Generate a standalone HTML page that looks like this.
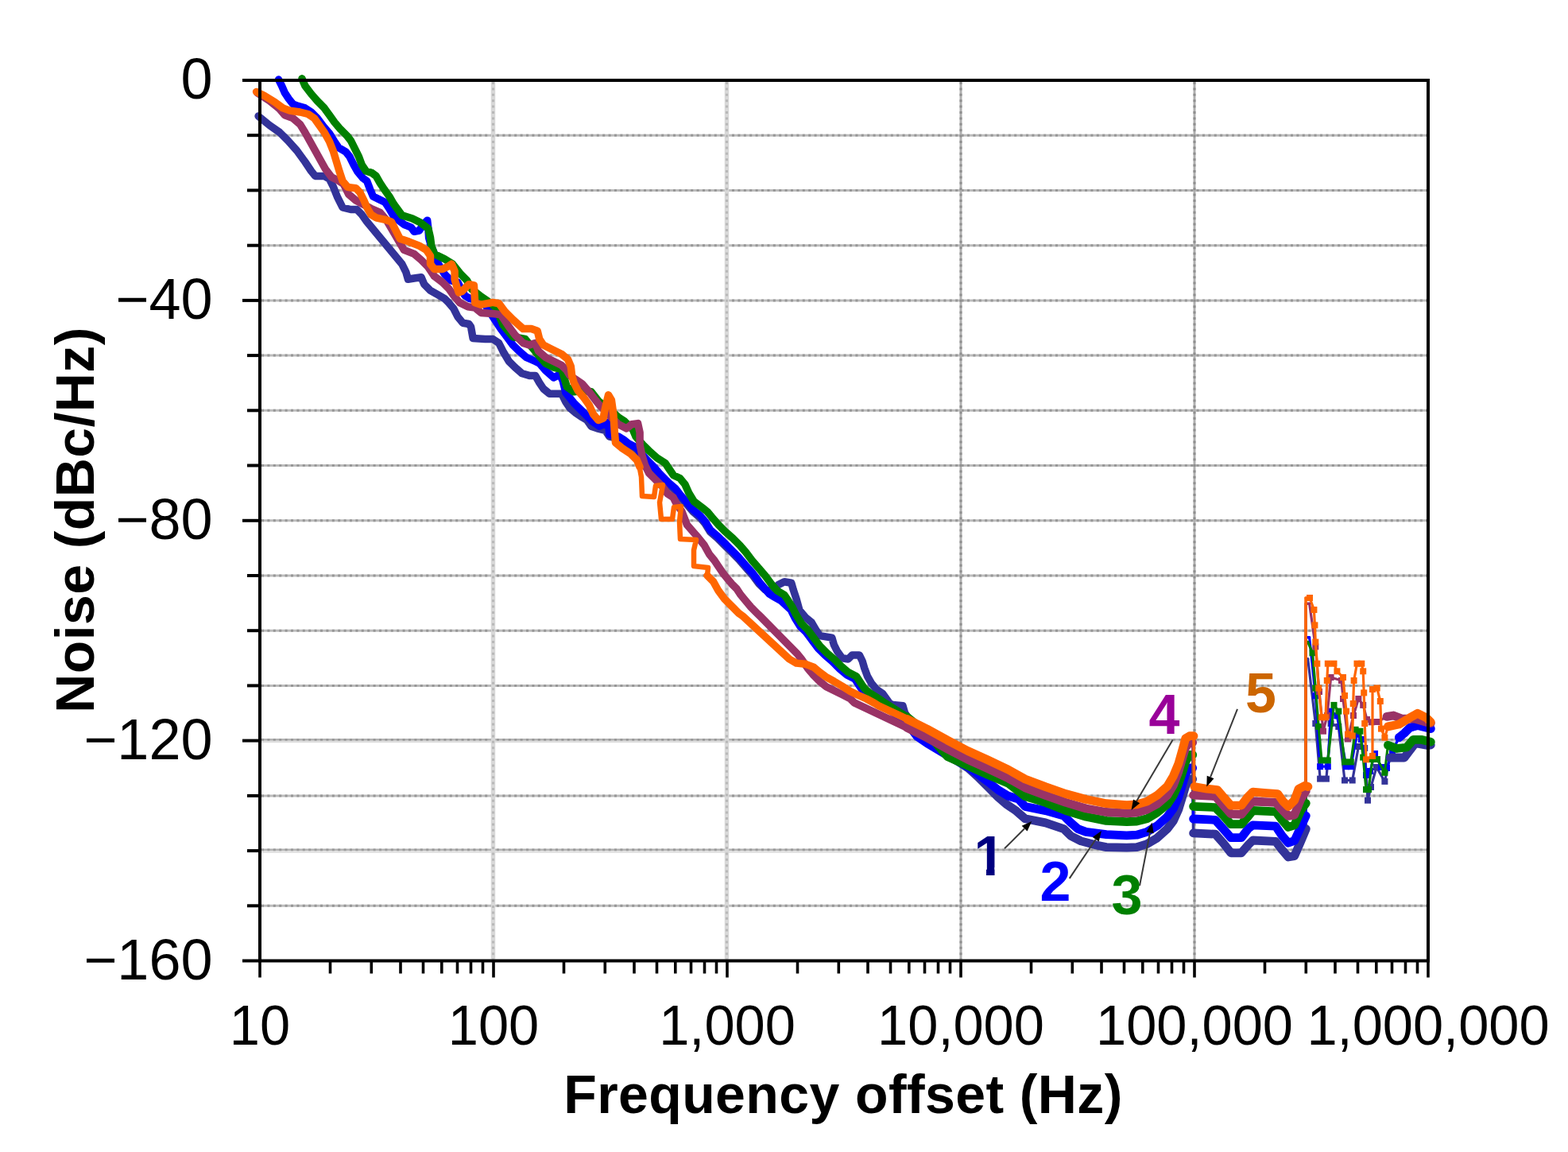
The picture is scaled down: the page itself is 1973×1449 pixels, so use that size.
<!DOCTYPE html>
<html><head><meta charset="utf-8"><style>
html,body{margin:0;padding:0;background:#fff;}
svg{display:block}
.tk{font-family:"Liberation Sans",Arial,sans-serif;font-size:70px;fill:#000}
.nl{font-family:"Liberation Sans",Arial,sans-serif;font-size:70px;font-weight:bold}
.tt{font-family:"Liberation Sans",Arial,sans-serif;font-size:68px;font-weight:bold;fill:#000}
</style></head><body>
<svg width="1973" height="1449" viewBox="0 0 1973 1449">
<rect width="1973" height="1449" fill="#fff"/>
<line x1="329.0" y1="1139.3" x2="1795" y2="1139.3" stroke="#bdbdbd" stroke-width="3"/><line x1="329.0" y1="1139.3" x2="1795" y2="1139.3" stroke="#979797" stroke-width="3" stroke-dasharray="3 4.4"/><line x1="329.0" y1="1068.9" x2="1795" y2="1068.9" stroke="#b4b4b4" stroke-width="2.6"/><line x1="329.0" y1="1071.6" x2="1795" y2="1071.6" stroke="#dedede" stroke-width="2.4"/><line x1="329.0" y1="1068.9" x2="1795" y2="1068.9" stroke="#999" stroke-width="2.6" stroke-dasharray="3 4.4"/><line x1="329.0" y1="1000.9" x2="1795" y2="1000.9" stroke="#bdbdbd" stroke-width="3"/><line x1="329.0" y1="1000.9" x2="1795" y2="1000.9" stroke="#979797" stroke-width="3" stroke-dasharray="3 4.4"/><line x1="329.0" y1="930.4" x2="1795" y2="930.4" stroke="#b4b4b4" stroke-width="2.6"/><line x1="329.0" y1="933.1" x2="1795" y2="933.1" stroke="#dedede" stroke-width="2.4"/><line x1="329.0" y1="930.4" x2="1795" y2="930.4" stroke="#999" stroke-width="2.6" stroke-dasharray="3 4.4"/><line x1="329.0" y1="862.4" x2="1795" y2="862.4" stroke="#bdbdbd" stroke-width="3"/><line x1="329.0" y1="862.4" x2="1795" y2="862.4" stroke="#979797" stroke-width="3" stroke-dasharray="3 4.4"/><line x1="329.0" y1="793.2" x2="1795" y2="793.2" stroke="#bdbdbd" stroke-width="3"/><line x1="329.0" y1="793.2" x2="1795" y2="793.2" stroke="#979797" stroke-width="3" stroke-dasharray="3 4.4"/><line x1="329.0" y1="724.0" x2="1795" y2="724.0" stroke="#bdbdbd" stroke-width="3"/><line x1="329.0" y1="724.0" x2="1795" y2="724.0" stroke="#979797" stroke-width="3" stroke-dasharray="3 4.4"/><line x1="329.0" y1="654.8" x2="1795" y2="654.8" stroke="#bdbdbd" stroke-width="3"/><line x1="329.0" y1="654.8" x2="1795" y2="654.8" stroke="#979797" stroke-width="3" stroke-dasharray="3 4.4"/><line x1="329.0" y1="585.5" x2="1795" y2="585.5" stroke="#bdbdbd" stroke-width="3"/><line x1="329.0" y1="585.5" x2="1795" y2="585.5" stroke="#979797" stroke-width="3" stroke-dasharray="3 4.4"/><line x1="329.0" y1="516.3" x2="1795" y2="516.3" stroke="#bdbdbd" stroke-width="3"/><line x1="329.0" y1="516.3" x2="1795" y2="516.3" stroke="#979797" stroke-width="3" stroke-dasharray="3 4.4"/><line x1="329.0" y1="447.1" x2="1795" y2="447.1" stroke="#bdbdbd" stroke-width="3"/><line x1="329.0" y1="447.1" x2="1795" y2="447.1" stroke="#979797" stroke-width="3" stroke-dasharray="3 4.4"/><line x1="329.0" y1="377.9" x2="1795" y2="377.9" stroke="#bdbdbd" stroke-width="3"/><line x1="329.0" y1="377.9" x2="1795" y2="377.9" stroke="#979797" stroke-width="3" stroke-dasharray="3 4.4"/><line x1="329.0" y1="308.7" x2="1795" y2="308.7" stroke="#bdbdbd" stroke-width="3"/><line x1="329.0" y1="308.7" x2="1795" y2="308.7" stroke="#979797" stroke-width="3" stroke-dasharray="3 4.4"/><line x1="329.0" y1="239.4" x2="1795" y2="239.4" stroke="#bdbdbd" stroke-width="3"/><line x1="329.0" y1="239.4" x2="1795" y2="239.4" stroke="#979797" stroke-width="3" stroke-dasharray="3 4.4"/><line x1="329.0" y1="170.2" x2="1795" y2="170.2" stroke="#bdbdbd" stroke-width="3"/><line x1="329.0" y1="170.2" x2="1795" y2="170.2" stroke="#979797" stroke-width="3" stroke-dasharray="3 4.4"/><line x1="620.5" y1="103.0" x2="620.5" y2="1206.5" stroke="#d8d8d8" stroke-width="5.5"/><line x1="620.5" y1="103.0" x2="620.5" y2="1206.5" stroke="#b8b8b8" stroke-width="3" stroke-dasharray="3 4.4"/><line x1="914.5" y1="103.0" x2="914.5" y2="1206.5" stroke="#d8d8d8" stroke-width="5.5"/><line x1="914.5" y1="103.0" x2="914.5" y2="1206.5" stroke="#b8b8b8" stroke-width="3" stroke-dasharray="3 4.4"/><line x1="1209.0" y1="103.0" x2="1209.0" y2="1206.5" stroke="#b0b0b0" stroke-width="3"/><line x1="1209.0" y1="103.0" x2="1209.0" y2="1206.5" stroke="#8e8e8e" stroke-width="3" stroke-dasharray="3 4.4"/><line x1="1503.0" y1="103.0" x2="1503.0" y2="1206.5" stroke="#b0b0b0" stroke-width="3"/><line x1="1503.0" y1="103.0" x2="1503.0" y2="1206.5" stroke="#8e8e8e" stroke-width="3" stroke-dasharray="3 4.4"/>
<g><polyline points="1645.7,828.9 1655.3,910.0 1661.1,979.6 1668.9,979.6 1674.6,910.0 1684.3,914.0 1692.0,981.5 1701.7,981.5 1709.4,939.0 1717.2,941.0 1721.0,1006.7 1725.0,990.0 1732.0,965.0 1742.4,982.9 1749.0,953.0" fill="none" stroke="#333399" stroke-width="3.2" stroke-linejoin="round" stroke-linecap="round"/><rect x="1651.3" y="906.0" width="8" height="8" fill="#333399"/><rect x="1657.1" y="975.6" width="8" height="8" fill="#333399"/><rect x="1664.9" y="975.6" width="8" height="8" fill="#333399"/><rect x="1670.6" y="906.0" width="8" height="8" fill="#333399"/><rect x="1680.3" y="910.0" width="8" height="8" fill="#333399"/><rect x="1688.0" y="977.5" width="8" height="8" fill="#333399"/><rect x="1697.7" y="977.5" width="8" height="8" fill="#333399"/><rect x="1705.4" y="935.0" width="8" height="8" fill="#333399"/><rect x="1713.2" y="937.0" width="8" height="8" fill="#333399"/><rect x="1717.0" y="1002.7" width="8" height="8" fill="#333399"/><rect x="1721.0" y="986.0" width="8" height="8" fill="#333399"/><rect x="1728.0" y="961.0" width="8" height="8" fill="#333399"/><rect x="1738.4" y="978.9" width="8" height="8" fill="#333399"/><rect x="1745.0" y="949.0" width="8" height="8" fill="#333399"/><polyline points="1647.6,801.8 1655.3,875.3 1661.1,964.2 1670.8,964.2 1674.6,894.6 1682.4,900.4 1694.0,964.2 1699.8,964.2 1707.5,923.6 1713.0,930.0 1719.0,975.0 1724.0,970.0 1730.0,948.0 1738.0,965.0 1745.0,966.0 1752.0,945.0 1760.3,927.7" fill="none" stroke="#0000ff" stroke-width="3.2" stroke-linejoin="round" stroke-linecap="round"/><rect x="1651.3" y="871.3" width="8" height="8" fill="#0000ff"/><rect x="1657.1" y="960.2" width="8" height="8" fill="#0000ff"/><rect x="1666.8" y="960.2" width="8" height="8" fill="#0000ff"/><rect x="1670.6" y="890.6" width="8" height="8" fill="#0000ff"/><rect x="1678.4" y="896.4" width="8" height="8" fill="#0000ff"/><rect x="1690.0" y="960.2" width="8" height="8" fill="#0000ff"/><rect x="1695.8" y="960.2" width="8" height="8" fill="#0000ff"/><rect x="1703.5" y="919.6" width="8" height="8" fill="#0000ff"/><rect x="1709.0" y="926.0" width="8" height="8" fill="#0000ff"/><rect x="1715.0" y="971.0" width="8" height="8" fill="#0000ff"/><rect x="1720.0" y="966.0" width="8" height="8" fill="#0000ff"/><rect x="1726.0" y="944.0" width="8" height="8" fill="#0000ff"/><rect x="1734.0" y="961.0" width="8" height="8" fill="#0000ff"/><rect x="1741.0" y="962.0" width="8" height="8" fill="#0000ff"/><rect x="1748.0" y="941.0" width="8" height="8" fill="#0000ff"/><rect x="1756.3" y="923.7" width="8" height="8" fill="#0000ff"/><polyline points="1645.7,807.6 1651.5,821.2 1655.3,865.6 1659.2,914.0 1663.0,956.4 1670.8,956.4 1678.5,886.9 1684.3,894.6 1692.0,958.4 1699.8,958.4 1705.6,917.8 1711.4,919.7 1715.2,952.6 1719.0,993.1 1722.0,993.0 1727.0,955.0 1733.0,955.0 1742.4,971.8 1746.5,937.3" fill="none" stroke="#008000" stroke-width="3.2" stroke-linejoin="round" stroke-linecap="round"/><rect x="1647.5" y="817.2" width="8" height="8" fill="#008000"/><rect x="1651.3" y="861.6" width="8" height="8" fill="#008000"/><rect x="1655.2" y="910.0" width="8" height="8" fill="#008000"/><rect x="1659.0" y="952.4" width="8" height="8" fill="#008000"/><rect x="1666.8" y="952.4" width="8" height="8" fill="#008000"/><rect x="1674.5" y="882.9" width="8" height="8" fill="#008000"/><rect x="1680.3" y="890.6" width="8" height="8" fill="#008000"/><rect x="1688.0" y="954.4" width="8" height="8" fill="#008000"/><rect x="1695.8" y="954.4" width="8" height="8" fill="#008000"/><rect x="1701.6" y="913.8" width="8" height="8" fill="#008000"/><rect x="1707.4" y="915.7" width="8" height="8" fill="#008000"/><rect x="1711.2" y="948.6" width="8" height="8" fill="#008000"/><rect x="1715.0" y="989.1" width="8" height="8" fill="#008000"/><rect x="1718.0" y="989.0" width="8" height="8" fill="#008000"/><rect x="1723.0" y="951.0" width="8" height="8" fill="#008000"/><rect x="1729.0" y="951.0" width="8" height="8" fill="#008000"/><rect x="1738.4" y="967.8" width="8" height="8" fill="#008000"/><rect x="1742.5" y="933.3" width="8" height="8" fill="#008000"/><polyline points="1647.6,759.3 1655.3,813.4 1660.0,870.0 1665.0,919.7 1670.0,900.0 1674.6,852.0 1688.0,856.0 1690.0,879.0 1696.0,929.4 1703.0,900.0 1709.4,879.0 1715.2,886.9 1720.0,905.0 1725.8,908.3 1733.0,908.0 1745.0,901.4" fill="none" stroke="#993366" stroke-width="3.2" stroke-linejoin="round" stroke-linecap="round"/><rect x="1651.3" y="809.4" width="8" height="8" fill="#993366"/><rect x="1656.0" y="866.0" width="8" height="8" fill="#993366"/><rect x="1661.0" y="915.7" width="8" height="8" fill="#993366"/><rect x="1666.0" y="896.0" width="8" height="8" fill="#993366"/><rect x="1670.6" y="848.0" width="8" height="8" fill="#993366"/><rect x="1684.0" y="852.0" width="8" height="8" fill="#993366"/><rect x="1686.0" y="875.0" width="8" height="8" fill="#993366"/><rect x="1692.0" y="925.4" width="8" height="8" fill="#993366"/><rect x="1699.0" y="896.0" width="8" height="8" fill="#993366"/><rect x="1705.4" y="875.0" width="8" height="8" fill="#993366"/><rect x="1711.2" y="882.9" width="8" height="8" fill="#993366"/><rect x="1716.0" y="901.0" width="8" height="8" fill="#993366"/><rect x="1721.8" y="904.3" width="8" height="8" fill="#993366"/><rect x="1729.0" y="904.0" width="8" height="8" fill="#993366"/><rect x="1741.0" y="897.4" width="8" height="8" fill="#993366"/><polyline points="1643.0,752.0 1648.0,752.0 1653.4,767.0 1654.4,786.4 1655.3,807.6 1657.3,834.7 1659.2,865.6 1663.0,902.3 1668.0,902.3 1669.8,856.0 1670.8,834.7 1678.5,834.7 1682.4,844.3 1690.0,852.0 1692.0,875.0 1694.0,894.6 1696.0,923.6 1701.7,925.5 1702.7,885.0 1703.6,856.0 1707.5,834.7 1713.3,834.7 1715.2,844.3 1716.2,871.4 1717.2,910.0 1719.0,955.3 1727.0,951.0 1727.0,867.0 1732.7,865.5 1736.8,882.0 1738.0,916.6 1742.4,927.7 1746.5,913.9" fill="none" stroke="#ff6600" stroke-width="3.2" stroke-linejoin="round" stroke-linecap="round"/><rect x="1644.0" y="748.0" width="8" height="8" fill="#ff6600"/><rect x="1649.4" y="763.0" width="8" height="8" fill="#ff6600"/><rect x="1650.4" y="782.4" width="8" height="8" fill="#ff6600"/><rect x="1651.3" y="803.6" width="8" height="8" fill="#ff6600"/><rect x="1653.3" y="830.7" width="8" height="8" fill="#ff6600"/><rect x="1655.2" y="861.6" width="8" height="8" fill="#ff6600"/><rect x="1659.0" y="898.3" width="8" height="8" fill="#ff6600"/><rect x="1664.0" y="898.3" width="8" height="8" fill="#ff6600"/><rect x="1665.8" y="852.0" width="8" height="8" fill="#ff6600"/><rect x="1666.8" y="830.7" width="8" height="8" fill="#ff6600"/><rect x="1674.5" y="830.7" width="8" height="8" fill="#ff6600"/><rect x="1678.4" y="840.3" width="8" height="8" fill="#ff6600"/><rect x="1686.0" y="848.0" width="8" height="8" fill="#ff6600"/><rect x="1688.0" y="871.0" width="8" height="8" fill="#ff6600"/><rect x="1690.0" y="890.6" width="8" height="8" fill="#ff6600"/><rect x="1692.0" y="919.6" width="8" height="8" fill="#ff6600"/><rect x="1697.7" y="921.5" width="8" height="8" fill="#ff6600"/><rect x="1698.7" y="881.0" width="8" height="8" fill="#ff6600"/><rect x="1699.6" y="852.0" width="8" height="8" fill="#ff6600"/><rect x="1703.5" y="830.7" width="8" height="8" fill="#ff6600"/><rect x="1709.3" y="830.7" width="8" height="8" fill="#ff6600"/><rect x="1711.2" y="840.3" width="8" height="8" fill="#ff6600"/><rect x="1712.2" y="867.4" width="8" height="8" fill="#ff6600"/><rect x="1713.2" y="906.0" width="8" height="8" fill="#ff6600"/><rect x="1715.0" y="951.3" width="8" height="8" fill="#ff6600"/><rect x="1723.0" y="947.0" width="8" height="8" fill="#ff6600"/><rect x="1723.0" y="863.0" width="8" height="8" fill="#ff6600"/><rect x="1728.7" y="861.5" width="8" height="8" fill="#ff6600"/><rect x="1732.8" y="878.0" width="8" height="8" fill="#ff6600"/><rect x="1734.0" y="912.6" width="8" height="8" fill="#ff6600"/><rect x="1738.4" y="923.7" width="8" height="8" fill="#ff6600"/><rect x="1742.5" y="909.9" width="8" height="8" fill="#ff6600"/><polyline points="1500.7,980.0 1501.6,1047.9" fill="none" stroke="#333399" stroke-width="3.5" stroke-linejoin="round" stroke-linecap="round"/><polyline points="1643.3,1042.6 1643.0,1042.6 1643.0,828.9 1645.7,828.9" fill="none" stroke="#333399" stroke-width="3.5" stroke-linejoin="round" stroke-linecap="round"/><polyline points="325.1,146.1 339.2,157.6 351.9,166.5 362.1,176.7 373.6,189.5 383.8,203.5 391.5,215.0 396.6,221.4 408.1,221.4 414.5,225.2 419.6,235.4 424.7,248.2 431.1,261.0 441.3,263.5 449.0,263.5 455.3,269.9 461.7,278.9 505.8,332.1 510.9,342.4 513.4,351.3 521.1,350.0 530.0,348.7 533.8,357.7 541.5,365.3 550.4,370.4 559.4,375.6 564.5,380.7 570.9,388.3 576.0,398.5 582.4,406.2 590.0,407.5 592.6,411.3 595.1,425.4 610.4,426.6 620.0,426.4 627.7,431.5 632.8,441.7 640.4,454.5 648.1,462.1 657.0,469.8 666.0,472.4 673.6,472.4 678.7,481.3 683.8,489.0 691.5,495.3 699.2,495.3 706.8,495.3 711.9,505.6 717.0,513.2 724.7,519.6 732.4,524.7 738.7,528.5 743.9,536.2 751.5,538.8 761.7,541.5 766.8,549.2 778.3,551.7 784.7,555.5 791.1,560.7 801.3,565.8 814.1,581.1 823.0,590.0 829.4,597.7 837.0,605.3 842.1,610.4 849.8,616.8 855.5,624.5 864.5,634.7 872.1,643.6 881.1,651.3 887.5,658.9 893.8,669.2 902.8,676.8 911.7,685.8 920.7,694.7 929.6,703.6 938.5,713.9 947.5,724.1 955.1,734.3 962.8,741.9 970.4,743.2 979.4,735.6 987.0,731.7 995.8,733.2 998.3,742.1 1002.1,753.6 1006.0,767.7 1013.6,776.6 1021.3,783.0 1026.4,791.9 1031.5,799.6 1039.2,800.9 1046.8,802.1 1049.4,811.1 1053.2,818.7 1059.6,827.7 1067.3,829.0 1072.4,823.9 1081.3,823.9 1085.1,831.5 1087.7,840.4 1091.5,850.7 1096.6,859.6 1103.0,867.3 1110.7,872.4 1117.0,881.3 1119.6,885.0 1123.2,886.4 1136.0,887.7 1138.5,896.6 1153.8,919.6" fill="none" stroke="#333399" stroke-width="9.5" stroke-linejoin="round" stroke-linecap="round"/><polyline points="1153.8,919.6 1166.6,932.4 1192.1,949.0 1217.7,965.6 1230.4,977.0 1243.2,989.8 1256.0,1002.6 1266.2,1011.5 1277.7,1019.2 1290.0,1029.8 1315.5,1034.9 1338.5,1042.6 1347.5,1051.5 1360.2,1057.9 1379.4,1063.0 1392.1,1065.6 1417.7,1066.2 1430.4,1065.6 1443.2,1061.7 1456.0,1054.1 1468.8,1042.6 1476.4,1032.4 1482.8,1018.3 1487.9,1001.7 1491.7,988.9 1496.8,980.0 1500.7,980.0" fill="none" stroke="#333399" stroke-width="10.8" stroke-linejoin="round" stroke-linecap="round"/><polyline points="1501.6,1047.9 1529.2,1049.2 1539.7,1061.0 1548.8,1072.8 1562.0,1072.8 1571.1,1062.3 1576.4,1057.0 1605.2,1058.4 1613.1,1068.8 1621.0,1078.0 1628.8,1076.7 1636.7,1058.4 1643.3,1042.6" fill="none" stroke="#333399" stroke-width="10.8" stroke-linejoin="round" stroke-linecap="round"/><polyline points="1749.0,953.0 1767.0,953.0 1781.0,934.6 1794.8,937.3 1800.3,937.0" fill="none" stroke="#333399" stroke-width="10.8" stroke-linejoin="round" stroke-linecap="round"/><polyline points="1500.7,966.0 1501.6,1030.0" fill="none" stroke="#0000ff" stroke-width="3.5" stroke-linejoin="round" stroke-linecap="round"/><polyline points="1643.3,1026.1 1643.0,1026.1 1643.0,801.8 1647.6,801.8" fill="none" stroke="#0000ff" stroke-width="3.5" stroke-linejoin="round" stroke-linecap="round"/><polyline points="350.6,100.1 354.5,107.8 358.3,116.7 363.4,124.4 368.5,130.8 374.9,133.3 383.8,135.9 391.5,141.0 399.2,148.6 406.8,158.8 414.5,167.8 420.9,178.0 426.0,185.7 434.9,190.8 440.0,197.1 445.1,207.4 450.2,216.3 456.6,224.0 461.7,227.8 465.6,238.0 469.4,246.9 477.0,250.8 484.7,254.6 489.8,262.3 494.9,271.2 498.8,275.0 508.3,282.3 517.5,286.2 521.1,291.3 527.5,290.0 533.8,281.1 537.7,277.2 538.9,287.5 539.6,298.9 542.8,310.4 547.9,321.9 551.7,332.1 559.4,344.9 567.0,352.6 576.0,355.1 579.8,362.8 584.9,371.7 591.3,375.6 597.7,376.8 610.4,383.2 622.6,402.1 630.2,413.6 637.9,423.8 645.5,434.1 653.2,441.7 662.1,449.4 673.6,454.5 678.7,457.0 686.4,466.0 696.6,474.9 704.3,471.1 708.1,478.7 711.9,494.1 722.1,506.8 732.4,517.0 738.7,523.4 745.1,529.8 754.1,536.2 765.5,531.3 766.8,546.6 778.3,549.2 784.7,553.0 791.1,558.1 801.3,563.2 806.4,569.6 814.1,578.5 823.0,587.5 829.4,595.1 837.0,602.8 842.1,607.9 849.8,614.3 855.5,621.9 864.5,632.1 872.1,641.1 881.1,648.7 887.5,656.4 893.8,666.6 902.8,674.3 911.7,683.2 920.7,692.1 929.6,701.1 938.5,711.3 947.5,721.5 955.1,731.7 961.5,739.4 967.9,747.0 974.3,750.9 983.2,756.0 995.1,767.0 1000.2,777.2 1006.6,787.5 1014.3,795.1 1021.9,805.3 1029.6,815.6 1038.5,824.5 1047.5,832.2 1056.4,841.1 1065.3,848.7 1075.6,853.9 1080.7,861.5 1085.8,869.2 1093.4,875.6 1103.6,881.9 1111.3,887.1 1141.1,909.4 1153.8,926.0" fill="none" stroke="#0000ff" stroke-width="9.5" stroke-linejoin="round" stroke-linecap="round"/><polyline points="1141.1,909.4 1153.8,926.0 1166.6,934.9 1192.1,950.2 1217.7,964.3 1243.2,983.4 1256.0,993.6 1268.8,1001.3 1281.5,1005.0 1290.0,1014.5 1315.5,1019.6 1338.5,1026.0 1347.5,1034.9 1356.4,1042.6 1366.6,1046.4 1392.1,1049.6 1417.7,1050.9 1430.4,1050.2 1443.2,1046.4 1456.0,1038.7 1468.8,1027.3 1476.4,1017.0 1482.8,1003.0 1487.9,986.4 1491.7,973.6 1496.8,966.0 1500.7,966.0" fill="none" stroke="#0000ff" stroke-width="10.8" stroke-linejoin="round" stroke-linecap="round"/><polyline points="1501.6,1030.0 1529.2,1031.3 1539.7,1043.1 1548.8,1053.6 1562.0,1053.6 1571.1,1041.8 1576.4,1037.9 1605.2,1039.2 1613.1,1051.0 1621.0,1060.2 1628.8,1057.5 1636.7,1040.5 1643.3,1026.1" fill="none" stroke="#0000ff" stroke-width="10.8" stroke-linejoin="round" stroke-linecap="round"/><polyline points="1760.3,927.7 1767.2,922.1 1774.0,915.2 1783.8,912.5 1794.8,915.2 1800.3,916.6" fill="none" stroke="#0000ff" stroke-width="10.8" stroke-linejoin="round" stroke-linecap="round"/><polyline points="1500.7,949.4 1501.6,1014.3" fill="none" stroke="#008000" stroke-width="3.5" stroke-linejoin="round" stroke-linecap="round"/><polyline points="1643.3,1010.3 1643.0,1010.3 1643.0,807.6 1645.7,807.6" fill="none" stroke="#008000" stroke-width="3.5" stroke-linejoin="round" stroke-linecap="round"/><polyline points="380.0,98.8 383.8,107.8 391.5,118.0 399.2,126.9 408.1,135.9 414.5,144.8 420.9,153.7 428.5,162.7 436.2,170.3 441.3,176.7 446.4,186.9 451.5,197.1 455.3,207.4 460.4,215.0 468.1,217.6 473.2,221.4 478.3,230.3 483.4,238.0 489.8,246.9 494.9,255.9 505.8,270.9 518.5,274.7 528.7,279.8 538.9,287.5 541.5,298.9 542.8,309.2 546.6,319.4 559.4,325.8 569.6,332.1 579.8,344.9 587.5,352.6 593.9,364.1 605.3,373.0 613.0,378.1 623.8,386.8 632.8,408.5 645.5,423.8 660.9,426.4 677.5,446.8 686.4,457.0 696.6,462.1 706.8,464.7 713.2,486.4 722.1,492.8 734.9,491.5 743.9,492.8 754.1,505.6 764.3,512.1 778.3,524.9 786.0,530.0 796.2,540.2 800.0,549.2 808.9,559.4 816.6,567.0 826.8,576.0 837.0,582.4 842.1,590.0 847.3,597.7 855.5,601.5 861.9,609.2 867.0,620.6 873.4,630.9 883.6,638.5 890.0,643.6 896.4,651.3 904.1,660.2 911.7,667.9 921.9,676.8 930.9,685.8 938.5,694.7 946.2,704.9 955.1,715.1 962.8,724.1 970.4,734.3 978.1,743.2 987.0,748.3 990.6,753.6 997.0,763.8 1002.1,774.1 1008.5,784.3 1016.2,791.9 1023.8,802.1 1031.5,812.4 1040.4,821.3 1049.4,829.0 1058.3,837.9 1067.3,845.6 1077.5,850.7 1082.6,858.3 1087.7,866.0 1095.3,872.4 1105.6,878.8 1113.2,883.9 1141.1,901.7" fill="none" stroke="#008000" stroke-width="9.5" stroke-linejoin="round" stroke-linecap="round"/><polyline points="1141.1,901.7 1166.6,922.1 1192.1,951.5 1217.7,963.0 1243.2,974.5 1268.8,985.3 1290.0,1001.7 1315.5,1009.4 1341.1,1019.6 1366.6,1027.3 1392.1,1032.4 1417.7,1033.6 1430.4,1033.0 1443.2,1029.8 1456.0,1022.1 1468.8,1011.9 1476.4,1000.4 1482.8,986.4 1487.9,971.1 1491.7,958.3 1496.8,949.4 1500.7,949.4" fill="none" stroke="#008000" stroke-width="10.8" stroke-linejoin="round" stroke-linecap="round"/><polyline points="1501.6,1014.3 1529.2,1015.6 1539.7,1026.1 1548.8,1036.6 1562.0,1036.6 1571.1,1026.1 1576.4,1019.5 1605.2,1020.8 1613.1,1031.3 1621.0,1040.5 1628.8,1037.9 1636.7,1019.5 1643.3,1010.3" fill="none" stroke="#008000" stroke-width="10.8" stroke-linejoin="round" stroke-linecap="round"/><polyline points="1746.5,937.3 1757.5,941.5 1770.0,940.0 1778.3,930.4 1789.3,930.4 1800.3,933.2" fill="none" stroke="#008000" stroke-width="10.8" stroke-linejoin="round" stroke-linecap="round"/><polyline points="1500.7,934.0 1501.6,1000.2" fill="none" stroke="#993366" stroke-width="3.5" stroke-linejoin="round" stroke-linecap="round"/><polyline points="1643.3,994.9 1643.0,994.9 1643.0,759.3 1647.6,759.3" fill="none" stroke="#993366" stroke-width="3.5" stroke-linejoin="round" stroke-linecap="round"/><polyline points="323.8,116.7 339.2,126.9 351.9,137.1 358.3,144.8 368.5,148.6 377.5,156.3 383.8,166.5 390.2,178.0 396.6,189.5 403.0,201.0 409.4,212.5 417.0,222.7 424.7,226.5 432.4,231.6 438.7,244.4 447.7,252.0 466.8,262.3 478.3,267.4 486.0,276.3 508.3,314.3 521.1,319.4 530.0,327.0 538.9,336.0 546.6,347.5 556.8,355.1 564.5,362.8 570.9,371.7 578.5,380.7 588.7,385.8 597.7,387.0 605.3,393.4 620.0,394.5 630.2,395.8 640.4,411.1 648.1,421.3 658.3,431.5 666.0,434.1 673.6,431.5 677.5,441.7 686.4,449.4 696.6,454.5 706.8,459.6 713.2,466.0 717.0,472.4 724.7,477.5 732.4,482.6 741.3,492.8 749.0,503.0 755.3,510.7 763.0,518.5 778.3,533.8 788.5,538.9 794.9,533.8 802.6,532.6 805.1,544.1 805.1,559.4 807.7,572.1 811.5,584.9 816.6,595.1 823.0,601.5 829.4,607.9 834.5,613.0 839.6,620.7 847.3,625.8 850.4,632.1 858.1,643.6 864.5,660.2 873.4,670.4 878.5,676.2 886.2,685.8 892.6,697.3 898.9,704.9 904.1,712.6 909.2,720.2 914.3,726.6 920.7,734.3 927.0,740.7 932.1,748.3 938.5,756.0 944.9,763.6 952.6,771.3 956.4,775.0 997.0,816.2 1003.4,822.6 1008.5,829.0 1016.2,840.4 1023.8,849.4 1031.5,857.0 1039.2,863.4 1049.4,868.5 1059.6,873.6 1069.8,878.8 1074.9,883.9 1141.1,915.1" fill="none" stroke="#993366" stroke-width="9.5" stroke-linejoin="round" stroke-linecap="round"/><polyline points="1141.1,915.1 1166.6,927.9 1192.1,941.9 1217.7,955.3 1243.2,966.8 1268.8,979.0 1290.0,990.9 1315.5,1000.4 1341.1,1009.4 1366.6,1017.0 1392.1,1021.5 1417.7,1022.8 1430.4,1022.1 1443.2,1018.3 1456.0,1011.3 1468.8,1000.4 1476.4,987.7 1482.8,971.1 1487.9,953.2 1491.7,940.4 1496.8,934.0 1500.7,934.0" fill="none" stroke="#993366" stroke-width="10.8" stroke-linejoin="round" stroke-linecap="round"/><polyline points="1501.6,1000.2 1529.2,1001.5 1539.7,1013.3 1548.8,1023.8 1562.0,1024.4 1571.1,1013.3 1576.4,1008.0 1605.2,1009.3 1613.1,1018.5 1621.0,1026.4 1628.8,1025.1 1636.7,1005.4 1643.3,994.9" fill="none" stroke="#993366" stroke-width="10.8" stroke-linejoin="round" stroke-linecap="round"/><polyline points="1745.0,901.4 1753.4,900.0 1764.5,904.2 1781.0,904.2 1794.8,908.3 1800.3,909.7" fill="none" stroke="#993366" stroke-width="10.8" stroke-linejoin="round" stroke-linecap="round"/><polyline points="1502.0,925.7 1502.9,989.5" fill="none" stroke="#ff6600" stroke-width="3.5" stroke-linejoin="round" stroke-linecap="round"/><polyline points="1645.9,989.5 1643.0,989.5 1643.0,752.0 1643.0,752.0" fill="none" stroke="#ff6600" stroke-width="3.5" stroke-linejoin="round" stroke-linecap="round"/><polyline points="322.6,115.4 332.8,120.5 345.5,128.2 355.8,135.9 364.7,139.1 377.5,141.0 387.7,143.5 395.3,148.6 401.7,157.6 408.1,166.5 414.5,178.0 419.6,190.8 423.4,203.5 427.3,216.3 431.1,227.8 437.5,235.4 447.7,236.7 452.8,241.8 457.9,252.0 461.7,261.0 466.8,269.9 473.2,273.8 484.7,276.3 492.4,278.9 503.2,300.2 514.7,304.1 527.5,309.2 536.4,314.3 541.5,321.9 541.5,332.1 546.6,338.5 556.8,338.5 564.5,334.7 568.3,332.1 572.1,341.1 572.1,351.3 574.7,360.2 577.3,367.9 581.1,366.6 590.0,357.7 596.4,359.0 597.7,380.7 605.3,383.2 620.0,380.4 627.7,381.7 635.3,391.9 645.5,402.1 658.3,413.6 668.5,413.6 676.2,416.2 678.7,426.4 683.8,434.1 694.1,439.2 706.8,445.5 714.5,451.9 718.3,460.9 719.6,472.4 722.1,481.3 727.3,491.5 734.9,500.4 741.3,509.4 746.4,520.9 752.8,528.5 759.2,526.0 760.4,518.5 764.3,501.9 765.5,496.8 769.4,503.2 771.9,521.1 773.2,541.5 774.5,556.8 782.1,563.2 793.6,570.9 801.3,578.5 805.1,587.5" fill="none" stroke="#ff6600" stroke-width="9.5" stroke-linejoin="round" stroke-linecap="round"/><polyline points="890.0,724.0 897.7,731.7 904.1,743.2 911.7,753.4 919.4,761.1 929.6,771.3 934.7,775.0 993.2,829.0 1002.1,834.1 1013.6,835.3 1023.8,839.2 1031.5,845.6 1039.2,851.3 1049.4,857.0 1059.6,863.0 1069.8,869.4 1080.0,874.5 1090.2,879.0 1100.4,884.5 1105.6,887.7 1141.1,904.3" fill="none" stroke="#ff6600" stroke-width="9.5" stroke-linejoin="round" stroke-linecap="round"/><polyline points="1141.1,904.3 1166.6,917.0 1192.1,931.1 1217.7,944.5 1243.2,956.0 1268.8,968.1 1290.0,980.0 1315.5,989.6 1341.1,998.5 1366.6,1005.5 1392.1,1010.7 1417.7,1012.6 1430.4,1011.9 1443.2,1008.1 1456.0,1000.4 1468.8,988.9 1476.4,976.2 1482.8,960.9 1487.9,943.0 1491.7,928.9 1496.8,925.7 1502.0,925.7" fill="none" stroke="#ff6600" stroke-width="10.8" stroke-linejoin="round" stroke-linecap="round"/><polyline points="1502.9,989.5 1518.7,992.2 1531.8,993.5 1539.7,1002.7 1548.8,1013.1 1562.0,1013.1 1569.8,1002.7 1576.4,996.1 1590.8,997.4 1607.8,998.7 1614.4,1007.9 1621.0,1014.5 1628.8,1006.6 1634.1,992.2 1641.9,988.2 1645.9,989.5" fill="none" stroke="#ff6600" stroke-width="10.8" stroke-linejoin="round" stroke-linecap="round"/><polyline points="1746.5,913.9 1760.3,911.0 1774.0,902.8 1783.8,897.3 1794.8,902.8 1800.3,908.3" fill="none" stroke="#ff6600" stroke-width="10.8" stroke-linejoin="round" stroke-linecap="round"/><polyline points="804.0,584.0 807.0,600.0 808.0,624.0 823.0,625.0 825.0,611.0 834.0,610.0 830.0,632.0 832.0,653.0 846.0,653.0 848.0,638.0 857.0,637.0 855.0,656.0 856.0,678.0 876.0,679.0 873.0,692.0 873.0,712.0 891.0,714.0 890.0,724.0" fill="none" stroke="#ff6600" stroke-width="6.5" stroke-linejoin="round" stroke-linecap="round"/></g>
<rect x="327.0" y="101.0" width="1470.0" height="1107.5" fill="none" stroke="#000" stroke-width="4"/><line x1="305" y1="1208.5" x2="327.0" y2="1208.5" stroke="#000" stroke-width="4"/><line x1="311" y1="1139.3" x2="327.0" y2="1139.3" stroke="#000" stroke-width="4"/><line x1="311" y1="1070.1" x2="327.0" y2="1070.1" stroke="#000" stroke-width="4"/><line x1="311" y1="1000.9" x2="327.0" y2="1000.9" stroke="#000" stroke-width="4"/><line x1="305" y1="931.6" x2="327.0" y2="931.6" stroke="#000" stroke-width="4"/><line x1="311" y1="862.4" x2="327.0" y2="862.4" stroke="#000" stroke-width="4"/><line x1="311" y1="793.2" x2="327.0" y2="793.2" stroke="#000" stroke-width="4"/><line x1="311" y1="724.0" x2="327.0" y2="724.0" stroke="#000" stroke-width="4"/><line x1="305" y1="654.8" x2="327.0" y2="654.8" stroke="#000" stroke-width="4"/><line x1="311" y1="585.5" x2="327.0" y2="585.5" stroke="#000" stroke-width="4"/><line x1="311" y1="516.3" x2="327.0" y2="516.3" stroke="#000" stroke-width="4"/><line x1="311" y1="447.1" x2="327.0" y2="447.1" stroke="#000" stroke-width="4"/><line x1="305" y1="377.9" x2="327.0" y2="377.9" stroke="#000" stroke-width="4"/><line x1="311" y1="308.7" x2="327.0" y2="308.7" stroke="#000" stroke-width="4"/><line x1="311" y1="239.4" x2="327.0" y2="239.4" stroke="#000" stroke-width="4"/><line x1="311" y1="170.2" x2="327.0" y2="170.2" stroke="#000" stroke-width="4"/><line x1="305" y1="101.0" x2="327.0" y2="101.0" stroke="#000" stroke-width="4"/><line x1="327.0" y1="1208.5" x2="327.0" y2="1229.5" stroke="#000" stroke-width="3.6"/><line x1="415.5" y1="1208.5" x2="415.5" y2="1224.5" stroke="#000" stroke-width="3.6"/><line x1="467.3" y1="1208.5" x2="467.3" y2="1224.5" stroke="#000" stroke-width="3.6"/><line x1="504.0" y1="1208.5" x2="504.0" y2="1224.5" stroke="#000" stroke-width="3.6"/><line x1="532.5" y1="1208.5" x2="532.5" y2="1224.5" stroke="#000" stroke-width="3.6"/><line x1="555.8" y1="1208.5" x2="555.8" y2="1224.5" stroke="#000" stroke-width="3.6"/><line x1="575.5" y1="1208.5" x2="575.5" y2="1224.5" stroke="#000" stroke-width="3.6"/><line x1="592.5" y1="1208.5" x2="592.5" y2="1224.5" stroke="#000" stroke-width="3.6"/><line x1="607.5" y1="1208.5" x2="607.5" y2="1224.5" stroke="#000" stroke-width="3.6"/><line x1="621.0" y1="1208.5" x2="621.0" y2="1229.5" stroke="#000" stroke-width="3.6"/><line x1="709.5" y1="1208.5" x2="709.5" y2="1224.5" stroke="#000" stroke-width="3.6"/><line x1="761.3" y1="1208.5" x2="761.3" y2="1224.5" stroke="#000" stroke-width="3.6"/><line x1="798.0" y1="1208.5" x2="798.0" y2="1224.5" stroke="#000" stroke-width="3.6"/><line x1="826.5" y1="1208.5" x2="826.5" y2="1224.5" stroke="#000" stroke-width="3.6"/><line x1="849.8" y1="1208.5" x2="849.8" y2="1224.5" stroke="#000" stroke-width="3.6"/><line x1="869.5" y1="1208.5" x2="869.5" y2="1224.5" stroke="#000" stroke-width="3.6"/><line x1="886.5" y1="1208.5" x2="886.5" y2="1224.5" stroke="#000" stroke-width="3.6"/><line x1="901.5" y1="1208.5" x2="901.5" y2="1224.5" stroke="#000" stroke-width="3.6"/><line x1="915.0" y1="1208.5" x2="915.0" y2="1229.5" stroke="#000" stroke-width="3.6"/><line x1="1003.5" y1="1208.5" x2="1003.5" y2="1224.5" stroke="#000" stroke-width="3.6"/><line x1="1055.3" y1="1208.5" x2="1055.3" y2="1224.5" stroke="#000" stroke-width="3.6"/><line x1="1092.0" y1="1208.5" x2="1092.0" y2="1224.5" stroke="#000" stroke-width="3.6"/><line x1="1120.5" y1="1208.5" x2="1120.5" y2="1224.5" stroke="#000" stroke-width="3.6"/><line x1="1143.8" y1="1208.5" x2="1143.8" y2="1224.5" stroke="#000" stroke-width="3.6"/><line x1="1163.5" y1="1208.5" x2="1163.5" y2="1224.5" stroke="#000" stroke-width="3.6"/><line x1="1180.5" y1="1208.5" x2="1180.5" y2="1224.5" stroke="#000" stroke-width="3.6"/><line x1="1195.5" y1="1208.5" x2="1195.5" y2="1224.5" stroke="#000" stroke-width="3.6"/><line x1="1209.0" y1="1208.5" x2="1209.0" y2="1229.5" stroke="#000" stroke-width="3.6"/><line x1="1297.5" y1="1208.5" x2="1297.5" y2="1224.5" stroke="#000" stroke-width="3.6"/><line x1="1349.3" y1="1208.5" x2="1349.3" y2="1224.5" stroke="#000" stroke-width="3.6"/><line x1="1386.0" y1="1208.5" x2="1386.0" y2="1224.5" stroke="#000" stroke-width="3.6"/><line x1="1414.5" y1="1208.5" x2="1414.5" y2="1224.5" stroke="#000" stroke-width="3.6"/><line x1="1437.8" y1="1208.5" x2="1437.8" y2="1224.5" stroke="#000" stroke-width="3.6"/><line x1="1457.5" y1="1208.5" x2="1457.5" y2="1224.5" stroke="#000" stroke-width="3.6"/><line x1="1474.5" y1="1208.5" x2="1474.5" y2="1224.5" stroke="#000" stroke-width="3.6"/><line x1="1489.5" y1="1208.5" x2="1489.5" y2="1224.5" stroke="#000" stroke-width="3.6"/><line x1="1503.0" y1="1208.5" x2="1503.0" y2="1229.5" stroke="#000" stroke-width="3.6"/><line x1="1591.5" y1="1208.5" x2="1591.5" y2="1224.5" stroke="#000" stroke-width="3.6"/><line x1="1643.3" y1="1208.5" x2="1643.3" y2="1224.5" stroke="#000" stroke-width="3.6"/><line x1="1680.0" y1="1208.5" x2="1680.0" y2="1224.5" stroke="#000" stroke-width="3.6"/><line x1="1708.5" y1="1208.5" x2="1708.5" y2="1224.5" stroke="#000" stroke-width="3.6"/><line x1="1731.8" y1="1208.5" x2="1731.8" y2="1224.5" stroke="#000" stroke-width="3.6"/><line x1="1751.5" y1="1208.5" x2="1751.5" y2="1224.5" stroke="#000" stroke-width="3.6"/><line x1="1768.5" y1="1208.5" x2="1768.5" y2="1224.5" stroke="#000" stroke-width="3.6"/><line x1="1783.5" y1="1208.5" x2="1783.5" y2="1224.5" stroke="#000" stroke-width="3.6"/><line x1="1797.0" y1="1208.5" x2="1797.0" y2="1229.5" stroke="#000" stroke-width="3.6"/>
<text x="267.5" y="124.0" text-anchor="end" class="tk" style="font-size:72px">0</text><text x="267.5" y="400.9" text-anchor="end" class="tk" style="font-size:72px">−40</text><text x="267.5" y="677.8" text-anchor="end" class="tk" style="font-size:72px">−80</text><text x="267.5" y="954.6" text-anchor="end" class="tk" style="font-size:72px">−120</text><text x="267.5" y="1231.5" text-anchor="end" class="tk" style="font-size:72px">−160</text><text transform="translate(327.0,1314) scale(0.98,1)" text-anchor="middle" class="tk">10</text><text transform="translate(621.0,1314) scale(0.98,1)" text-anchor="middle" class="tk">100</text><text transform="translate(915.0,1314) scale(0.98,1)" text-anchor="middle" class="tk">1,000</text><text transform="translate(1209.0,1314) scale(0.98,1)" text-anchor="middle" class="tk">10,000</text><text transform="translate(1503.0,1314) scale(0.98,1)" text-anchor="middle" class="tk">100,000</text><text transform="translate(1797.0,1314) scale(0.98,1)" text-anchor="middle" class="tk">1,000,000</text><text x="1061" y="1399.5" text-anchor="middle" class="tt" style="letter-spacing:0.4px">Frequency offset (Hz)</text><text transform="translate(117.5,654) rotate(-90)" text-anchor="middle" class="tt" style="letter-spacing:0.4px">Noise (dBc/Hz)</text><line x1="1264" y1="1067.3" x2="1289.1" y2="1042.2" stroke="#3a3a3a" stroke-width="2"/><polygon points="1298.3,1033 1292.5,1045.6 1285.7,1038.8" fill="#000"/><line x1="1345.7" y1="1104.9" x2="1378.7" y2="1055.8" stroke="#3a3a3a" stroke-width="2"/><polygon points="1386,1045 1382.7,1058.4 1374.8,1053.1" fill="#000"/><line x1="1434" y1="1114" x2="1447.0" y2="1047.3" stroke="#3a3a3a" stroke-width="2"/><polygon points="1449.5,1034.5 1451.7,1048.2 1442.4,1046.4" fill="#000"/><line x1="1475.7" y1="930.5" x2="1430.1" y2="1007.8" stroke="#3a3a3a" stroke-width="2"/><polygon points="1423.5,1019 1426.0,1005.4 1434.2,1010.2" fill="#000"/><line x1="1557" y1="891.8" x2="1523.1" y2="977.4" stroke="#3a3a3a" stroke-width="2"/><polygon points="1518.3,989.5 1518.7,975.7 1527.5,979.2" fill="#000"/><clipPath id="c1clip"><path d="M1200,1030 H1270 V1091 H1251.5 V1110 H1241 V1091 H1200 Z"/></clipPath><text x="1225.5" y="1100.5" class="nl" fill="#000080" clip-path="url(#c1clip)">1</text><text x="1328" y="1132.5" text-anchor="middle" class="nl" fill="#0000ff">2</text><text x="1418" y="1149.5" text-anchor="middle" class="nl" fill="#008000">3</text><text x="1465" y="922.5" text-anchor="middle" class="nl" fill="#990099">4</text><text x="1586.5" y="895.5" text-anchor="middle" class="nl" fill="#cc6600">5</text>
</svg></body></html>
